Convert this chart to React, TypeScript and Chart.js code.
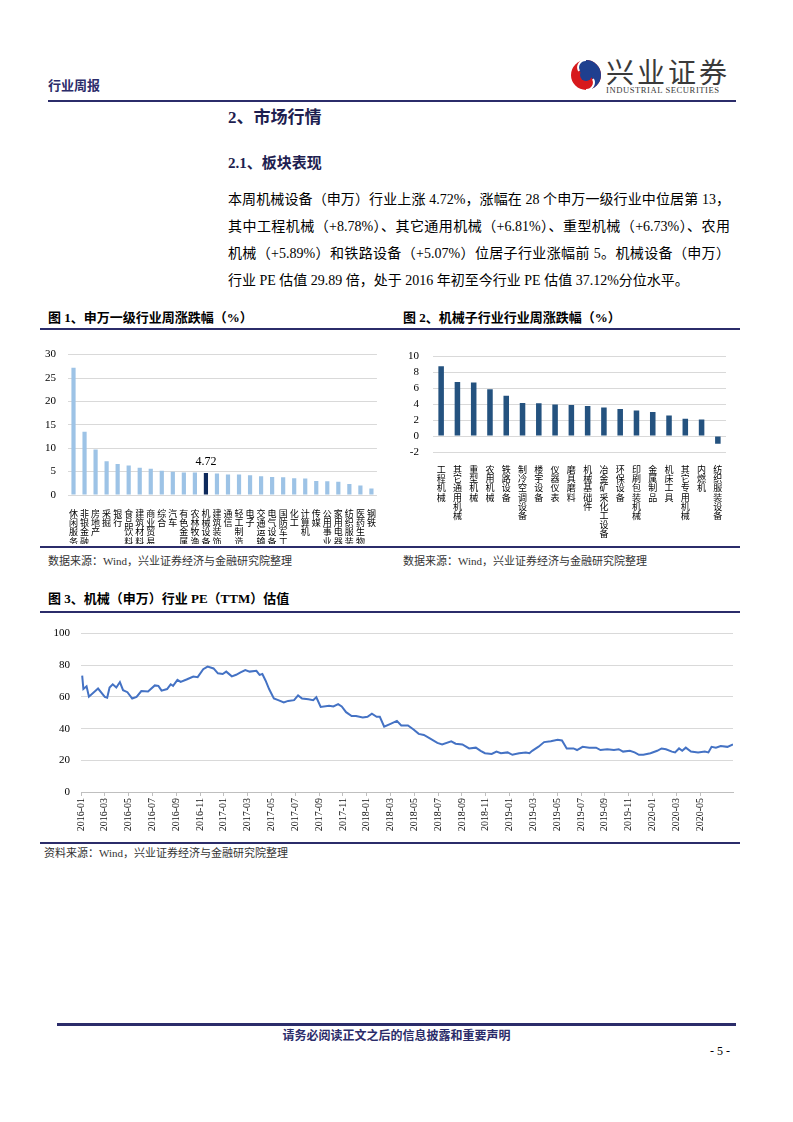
import React, { useEffect, useRef } from "react";
import { Chart, registerables } from "chart.js";

Chart.register(...registerables);

// ---------- Figure 1: 申万一级行业周涨跌幅 ----------
const swIndustries = [
  "休闲服务", "非银金融", "房地产", "采掘", "银行", "食品饮料", "建筑材料",
  "商业贸易", "综合", "汽车", "有色金属", "农林牧渔", "机械设备", "建筑装饰",
  "通信", "轻工制造", "电子", "交通运输", "电气设备", "国防军工", "化工",
  "计算机", "传媒", "公用事业", "家用电器", "纺织服装", "医药生物", "钢铁",
];
const swChanges = [
  27.2, 13.5, 9.7, 7.2, 6.6, 6.3, 5.8, 5.6, 5.2, 4.95, 4.8, 4.8, 4.72, 4.6,
  4.4, 4.4, 4.2, 4.0, 3.87, 3.8, 3.6, 3.5, 3.0, 2.95, 2.85, 2.35, 2.05, 1.4,
];
const swHighlight = "机械设备";
const swTicks = [0, 5, 10, 15, 20, 25, 30];

// ---------- Figure 2: 机械子行业周涨跌幅 ----------
const subIndustries = [
  "工程机械", "其它通用机械", "重型机械", "农用机械", "铁路设备", "制冷空调设备",
  "楼宇设备", "仪器仪表", "磨具磨料", "机械基础件", "冶金矿采化工设备", "环保设备",
  "印刷包装机械", "金属制品", "机床工具", "其它专用机械", "内燃机", "纺织服装设备",
];
const subChanges = [
  8.78, 6.81, 6.73, 5.89, 5.07, 4.15, 4.12, 3.96, 3.92, 3.8, 3.6, 3.42, 3.23,
  3.04, 2.58, 2.19, 2.1, -0.96,
];
const subTicks = [-2, 0, 2, 4, 6, 8, 10];

// ---------- Figure 3: 机械（申万）行业 PE（TTM） ----------
const peDates = [
  "2016-01-04", "2016-01-07", "2016-01-15", "2016-01-21", "2016-02-14", "2016-03-01",
  "2016-03-07", "2016-03-13", "2016-03-21", "2016-03-30", "2016-04-09", "2016-04-17",
  "2016-04-28", "2016-05-10", "2016-05-21", "2016-06-03", "2016-06-20", "2016-07-07",
  "2016-07-16", "2016-07-24", "2016-08-08", "2016-08-17", "2016-08-23", "2016-09-04",
  "2016-09-12", "2016-09-27", "2016-10-14", "2016-10-25", "2016-11-09", "2016-11-20",
  "2016-12-05", "2016-12-16", "2016-12-28", "2017-01-07", "2017-01-21", "2017-02-02",
  "2017-02-13", "2017-02-25", "2017-03-06", "2017-03-23", "2017-04-01", "2017-04-08",
  "2017-04-16", "2017-04-25", "2017-05-07", "2017-05-18", "2017-06-02", "2017-06-13",
  "2017-06-28", "2017-07-08", "2017-07-18", "2017-08-04", "2017-08-16", "2017-08-24",
  "2017-09-05", "2017-09-26", "2017-10-07", "2017-10-19", "2017-10-28", "2017-11-09",
  "2017-11-23", "2017-12-04", "2017-12-21", "2018-01-03", "2018-01-14", "2018-01-26",
  "2018-02-04", "2018-02-15", "2018-03-01", "2018-03-17", "2018-03-28", "2018-04-15",
  "2018-04-29", "2018-05-12", "2018-05-25", "2018-06-09", "2018-06-29", "2018-07-11",
  "2018-08-04", "2018-08-15", "2018-09-02", "2018-09-19", "2018-10-06", "2018-10-18",
  "2018-10-29", "2018-11-16", "2018-11-28", "2018-12-09", "2018-12-26", "2019-01-08",
  "2019-01-25", "2019-02-12", "2019-02-21", "2019-02-28", "2019-03-14", "2019-03-28",
  "2019-04-15", "2019-05-02", "2019-05-13", "2019-05-25", "2019-06-12", "2019-06-21",
  "2019-07-05", "2019-07-22", "2019-08-09", "2019-08-20", "2019-09-07", "2019-09-24",
  "2019-10-06", "2019-10-17", "2019-11-04", "2019-11-16", "2019-11-27", "2019-12-08",
  "2019-12-26", "2020-01-13", "2020-01-24", "2020-02-05", "2020-02-20", "2020-02-28",
  "2020-03-08", "2020-03-16", "2020-03-25", "2020-04-08", "2020-04-26", "2020-05-13",
  "2020-05-22", "2020-05-30", "2020-06-11", "2020-06-23", "2020-07-10", "2020-07-24",
];
const peValues = [
  73.5, 65, 66.7, 60.2, 65.3, 60, 59.5, 66, 68, 66, 69.4, 64.3,
  63, 59, 60, 63.7, 63.5, 67.3, 67, 64, 65, 68, 67, 70.8,
  69.5, 71, 72.9, 72.5, 77.5, 79.2, 78, 74.9, 74.5, 76, 73, 74,
  75.5, 77, 76, 76.5, 73.9, 74.5, 70.4, 65, 59, 58, 56.5, 57.5,
  58, 61, 59, 58.5, 58, 59.8, 53.7, 54.5, 54, 55.5, 54, 50.4,
  48, 48, 47, 47.5, 49.4, 47.5, 47.5, 41.2, 43, 44.9, 42, 42,
  39.5, 36.7, 36, 34, 31, 30, 32, 30.5, 30, 27.5, 28, 26,
  24.5, 24, 25.5, 24.5, 25, 23.5, 24.5, 25, 24.5, 26, 28.6, 31.5,
  32, 33, 32.5, 27.5, 27.5, 26.5, 28.5, 28, 28, 26.5, 27, 26.5,
  27, 25.5, 26, 25, 23.5, 23.5, 24.5, 26, 27.5, 27, 25.5, 25,
  27.5, 26, 28, 25.5, 25, 25.5, 25, 28.5, 28, 29, 28.5, 30,
];
const peTickLabels = [
  "2016-01", "2016-03", "2016-05", "2016-07", "2016-09", "2016-11",
  "2017-01", "2017-03", "2017-05", "2017-07", "2017-09", "2017-11",
  "2018-01", "2018-03", "2018-05", "2018-07", "2018-09", "2018-11",
  "2019-01", "2019-03", "2019-05", "2019-07", "2019-09", "2019-11",
  "2020-01", "2020-03", "2020-05",
];
const peYTicks = [0, 20, 40, 60, 80, 100];

// ---------- helpers ----------
const SERIF = '"Liberation Serif", "Noto Sans CJK SC", serif';
const CJK = '"Noto Sans CJK SC", sans-serif';
const NAVY = "#2B2C6A";

function monthIndex(s: string): number {
  const [y, m, d] = s.split("-").map(Number);
  return (y - 2016) * 12 + (m - 1) + ((d || 1) - 1) / 30;
}

const valueLabelPlugin = {
  id: "valueLabel",
  afterDatasetsDraw(chart: any) {
    const idx = swIndustries.indexOf(swHighlight);
    const el = chart.getDatasetMeta(0).data[idx];
    if (!el) return;
    const ctx = chart.ctx;
    ctx.save();
    ctx.font = `12px ${SERIF}`;
    ctx.fillStyle = "#000";
    ctx.textAlign = "center";
    ctx.textBaseline = "bottom";
    ctx.fillText(swChanges[idx].toFixed(2), el.x, el.y - 5);
    ctx.restore();
  },
};

function Bar1() {
  const ref = useRef<HTMLCanvasElement>(null);
  useEffect(() => {
    const chart = new Chart(ref.current!, {
      type: "bar",
      data: {
        labels: swIndustries.map((s) => s.split("")),
        datasets: [
          {
            data: swChanges,
            backgroundColor: swIndustries.map((s) => (s === swHighlight ? "#0E2A5C" : "#9DC3E6")),
            barPercentage: 0.38,
            categoryPercentage: 1,
          },
        ],
      },
      options: {
        animation: false,
        responsive: false,
        layout: { padding: { top: 9, right: 4, left: 0, bottom: 0 } },
        plugins: { legend: { display: false }, tooltip: { enabled: false } },
        scales: {
          x: {
            grid: { display: false },
            border: { display: false },
            ticks: {
              autoSkip: false,
              maxRotation: 0,
              minRotation: 0,
              padding: 6,
              color: "#000",
              font: { family: CJK, size: 9, lineHeight: 1.02 },
            },
            afterFit: (s: any) => { s.height = 49; },
          },
          y: {
            min: 0,
            max: 30,
            afterBuildTicks: (s: any) => { s.ticks = swTicks.map((v) => ({ value: v })); },
            ticks: { autoSkip: false, padding: 12, color: "#000", font: { family: SERIF, size: 11 } },
            grid: { color: "#D9D9D9", drawTicks: false },
            border: { display: false },
            afterFit: (s: any) => { s.width = 28; },
          },
        },
      },
      plugins: [valueLabelPlugin],
    });
    return () => chart.destroy();
  }, []);
  return <canvas ref={ref} width={342} height={208} style={{ position: "absolute", left: 40, top: 336 }} />;
}

function Bar2() {
  const ref = useRef<HTMLCanvasElement>(null);
  useEffect(() => {
    const chart = new Chart(ref.current!, {
      type: "bar",
      data: {
        labels: subIndustries.map((s) => s.split("")),
        datasets: [
          {
            data: subChanges,
            backgroundColor: "#24527F",
            barPercentage: 0.34,
            categoryPercentage: 1,
          },
        ],
      },
      options: {
        animation: false,
        responsive: false,
        layout: { padding: { top: 12, right: 14, left: 0, bottom: 0 } },
        plugins: { legend: { display: false }, tooltip: { enabled: false } },
        scales: {
          x: {
            grid: { display: false },
            border: { display: false },
            ticks: {
              autoSkip: false,
              maxRotation: 0,
              minRotation: 0,
              padding: 5,
              color: "#000",
              font: { family: CJK, size: 9, lineHeight: 1.02 },
            },
            afterFit: (s: any) => { s.height = 92; },
          },
          y: {
            min: -2,
            max: 10,
            afterBuildTicks: (s: any) => { s.ticks = subTicks.map((v) => ({ value: v })); },
            ticks: { autoSkip: false, padding: 14, color: "#000", font: { family: SERIF, size: 11 } },
            grid: { color: "#D9D9D9", drawTicks: false },
            border: { display: false },
            afterFit: (s: any) => { s.width = 36; },
          },
        },
      },
    });
    return () => chart.destroy();
  }, []);
  return <canvas ref={ref} width={343} height={208} style={{ position: "absolute", left: 397, top: 336 }} />;
}

function Line3() {
  const ref = useRef<HTMLCanvasElement>(null);
  useEffect(() => {
    const points = peDates.map((d, i) => ({ x: monthIndex(d), y: peValues[i] }));
    const tickVals = peTickLabels.map((l) => monthIndex(l + "-01"));
    const chart = new Chart(ref.current!, {
      type: "line",
      data: {
        datasets: [
          {
            data: points,
            borderColor: "#4472C4",
            borderWidth: 2,
            pointRadius: 0,
            tension: 0,
            fill: false,
          },
        ],
      },
      options: {
        animation: false,
        responsive: false,
        layout: { padding: { top: 12, right: 7, left: 0, bottom: 0 } },
        plugins: { legend: { display: false }, tooltip: { enabled: false } },
        scales: {
          x: {
            type: "linear",
            min: 0,
            max: points[points.length - 1].x,
            afterBuildTicks: (s: any) => { s.ticks = tickVals.map((v) => ({ value: v })); },
            ticks: {
              autoSkip: false,
              maxRotation: 90,
              minRotation: 90,
              padding: 2,
              color: "#111",
              font: { family: SERIF, size: 10 },
              callback: (v: any) => {
                const i = tickVals.indexOf(v);
                return i >= 0 ? peTickLabels[i] : "";
              },
            },
            grid: { drawOnChartArea: false, tickLength: 4, color: "#BFBFBF" },
            border: { display: true, color: "#BFBFBF" },
            afterFit: (s: any) => { s.height = 50; },
          },
          y: {
            min: 0,
            max: 100,
            afterBuildTicks: (s: any) => { s.ticks = peYTicks.map((v) => ({ value: v })); },
            ticks: { autoSkip: false, padding: 11, color: "#000", font: { family: SERIF, size: 11 } },
            grid: { color: "#D9D9D9", drawTicks: false },
            border: { display: false },
            afterFit: (s: any) => { s.width = 41; },
          },
        },
      },
    });
    return () => chart.destroy();
  }, []);
  return <canvas ref={ref} width={700} height={226} style={{ position: "absolute", left: 40, top: 616 }} />;
}

const abs = (o: React.CSSProperties): React.CSSProperties => ({ position: "absolute", margin: 0, whiteSpace: "nowrap", ...o });

function Logo() {
  return (
    <svg width={32} height={36} style={{ position: "absolute", left: 570, top: 57 }} viewBox="0 0 32 36">
      <circle cx={16} cy={18} r={15} fill="#D7191C" />
      <path d="M16 3 A15 15 0 0 1 16 33 A7.5 7.5 0 0 0 16 18 A7.5 7.5 0 0 1 16 3 Z" fill="#1F3F8F" />
      <circle cx={16} cy={18} r={6} fill="#1F3F8F" />
      <path d="M16 3 A7.5 7.5 0 0 0 9 14" stroke="#fff" strokeWidth={2} fill="none" />
      <path d="M16 33 A7.5 7.5 0 0 0 23 22" stroke="#fff" strokeWidth={2} fill="none" />
    </svg>
  );
}

const paraLines = [
  "本周机械设备（申万）行业上涨 4.72%，涨幅在 28 个申万一级行业中位居第 13，",
  "其中工程机械（+8.78%）、其它通用机械（+6.81%）、重型机械（+6.73%）、农用",
  "机械（+5.89%）和铁路设备（+5.07%）位居子行业涨幅前 5。机械设备（申万）",
  "行业 PE 估值 29.89 倍，处于 2016 年初至今行业 PE 估值 37.12%分位水平。",
];

export default function App() {
  return (
    <div style={{ position: "absolute", left: 0, top: 0, width: 793, height: 1122, background: "#fff", fontFamily: SERIF, overflow: "hidden" }}>
      {/* header */}
      <div style={abs({ left: 48, top: 76, fontSize: 13, lineHeight: "18px", fontWeight: 700, color: NAVY, fontFamily: CJK })}>行业周报</div>
      <Logo />
      <div style={abs({ left: 606, top: 56, fontSize: 28, lineHeight: "30px", color: "#3A3A3A", letterSpacing: 3, fontFamily: CJK })}>兴业证券</div>
      <div style={abs({ left: 606, top: 85, fontSize: 8.6, lineHeight: "10px", color: "#3A3A3A", letterSpacing: 0.55 })}>INDUSTRIAL SECURITIES</div>
      <div style={abs({ left: 48, top: 100, width: 688, height: 1.5, background: NAVY })} />

      {/* section titles */}
      <div style={abs({ left: 228, top: 107, fontSize: 17, lineHeight: "22px", fontWeight: 700, color: "#1E1E50" })}>2、市场行情</div>
      <div style={abs({ left: 228, top: 153, fontSize: 15, lineHeight: "20px", fontWeight: 700, color: "#1E1E50" })}>2.1、板块表现</div>
      {paraLines.map((t, i) => (
        <div
          key={i}
          style={abs({
            left: 228,
            top: 186 + i * 27,
            width: 502,
            fontSize: 14,
            lineHeight: "27px",
            color: "#000",
            textAlign: "justify",
            textAlignLast: i < 3 ? "justify" : "left",
          } as React.CSSProperties)}
        >
          {t}
        </div>
      ))}

      {/* figure 1 & 2 */}
      <div style={abs({ left: 48, top: 309, fontSize: 13, lineHeight: "18px", fontWeight: 700, color: "#000" })}>图 1、申万一级行业周涨跌幅（%）</div>
      <div style={abs({ left: 403, top: 309, fontSize: 13, lineHeight: "18px", fontWeight: 700, color: "#000" })}>图 2、机械子行业行业周涨跌幅（%）</div>
      <div style={abs({ left: 40, top: 328, width: 700, height: 2, background: NAVY })} />
      <Bar1 />
      <Bar2 />
      <div style={abs({ left: 40, top: 546, width: 700, height: 2, background: NAVY })} />
      <div style={abs({ left: 48, top: 553, fontSize: 11, lineHeight: "16px", color: "#333" })}>数据来源：Wind，兴业证券经济与金融研究院整理</div>
      <div style={abs({ left: 403, top: 553, fontSize: 11, lineHeight: "16px", color: "#333" })}>数据来源：Wind，兴业证券经济与金融研究院整理</div>

      {/* figure 3 */}
      <div style={abs({ left: 48, top: 590, fontSize: 13, lineHeight: "18px", fontWeight: 700, color: "#000" })}>图 3、机械（申万）行业 PE（TTM）估值</div>
      <div style={abs({ left: 40, top: 611, width: 700, height: 2, background: NAVY })} />
      <Line3 />
      <div style={abs({ left: 40, top: 842, width: 700, height: 2, background: NAVY })} />
      <div style={abs({ left: 44, top: 845, fontSize: 11, lineHeight: "16px", color: "#333" })}>资料来源：Wind，兴业证券经济与金融研究院整理</div>

      {/* footer */}
      <div style={abs({ left: 57, top: 1023, width: 679, height: 2.5, background: NAVY })} />
      <div style={abs({ left: 57, top: 1026, width: 679, textAlign: "center", fontSize: 12, lineHeight: "17px", fontWeight: 700, color: NAVY, fontFamily: CJK })}>请务必阅读正文之后的信息披露和重要声明</div>
      <div style={abs({ left: 700, top: 1043, width: 30, textAlign: "right", fontSize: 12, lineHeight: "16px", color: "#000" })}>- 5 -</div>
    </div>
  );
}
